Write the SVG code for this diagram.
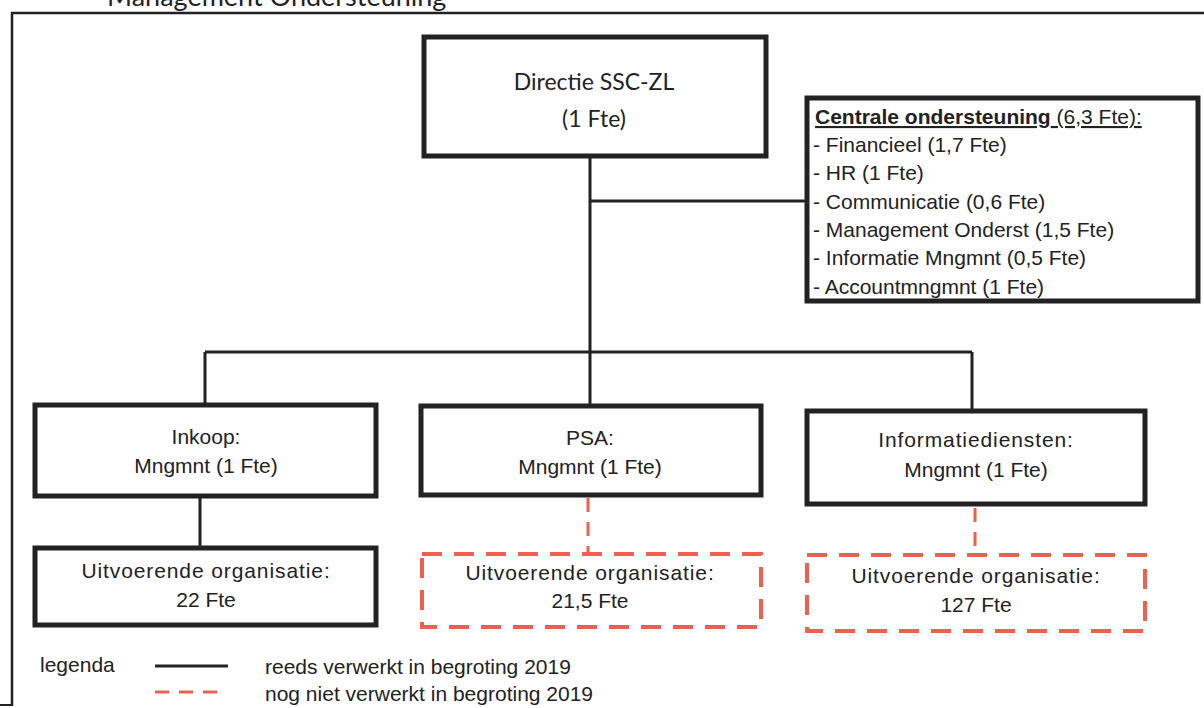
<svg xmlns="http://www.w3.org/2000/svg" width="1204" height="708" viewBox="0 0 1204 708">
<style>
.box{fill:#fff;stroke:#222;stroke-width:5}
.dbox{fill:#fff;stroke:#f0604e;stroke-width:4;stroke-dasharray:20 12}
.ln{fill:none;stroke:#222;stroke-width:3}
.dln{fill:none;stroke:#f0604e;stroke-width:3;stroke-dasharray:14 10}
text{font-family:"Liberation Sans",Arial,sans-serif;font-size:21px;fill:#222}
.cal{font-family:Lato,"Open Sans",sans-serif;font-size:23px}
.mid{text-anchor:middle}
.sp{letter-spacing:0.9px}
</style>
<rect width="1204" height="708" fill="#fff"/>
<text class="cal" x="107" y="6" style="font-size:27px">Management Ondersteuning</text>
<g id="frame"><path d="M12 706 V13 H1204" fill="none" stroke="#222" stroke-width="2.5"/><path d="M0 705 H12" stroke="#222" stroke-width="2"/></g>
<g id="connectors">
<path class="ln" d="M590 157 V404 M590 201 H806 M205 352 H972 M205 352 V404 M972 352 V411 M200 496 V547"/>
<path class="dln" d="M588 498 V552 M975 508 V553"/>
</g>
<g id="directie"><rect class="box" x="424" y="37" width="342" height="119"/>
<text class="cal mid" x="594" y="90">Directie SSC-ZL</text><text class="cal mid" x="594" y="127">(1 Fte)</text></g>
<g id="centrale"><rect class="box" x="807" y="98" width="391" height="203"/>
<text x="815" y="124"><tspan font-weight="bold" text-decoration="underline">Centrale ondersteuning</tspan><tspan text-decoration="underline"> (6,3 Fte):</tspan></text>
<text x="813" y="152">- Financieel (1,7 Fte)</text>
<text x="813" y="180">- HR (1 Fte)</text>
<text x="813" y="209">- Communicatie (0,6 Fte)</text>
<text x="813" y="237">- Management Onderst (1,5 Fte)</text>
<text x="813" y="265">- Informatie Mngmnt (0,5 Fte)</text>
<text x="813" y="294">- Accountmngmnt (1 Fte)</text></g>
<g id="inkoop"><rect class="box" x="35" y="405" width="341" height="91"/>
<text class="mid" x="206" y="444">Inkoop:</text><text class="mid" x="206" y="473">Mngmnt (1 Fte)</text></g>
<g id="psa"><rect class="box" x="421" y="406" width="340" height="89"/>
<text class="mid" x="590" y="445">PSA:</text><text class="mid" x="590" y="474">Mngmnt (1 Fte)</text></g>
<g id="info"><rect class="box" x="807" y="411" width="338" height="93"/>
<text class="mid sp" x="976" y="447">Informatiediensten:</text><text class="mid" x="976" y="477">Mngmnt (1 Fte)</text></g>
<g id="uit-inkoop"><rect class="box" x="35" y="548" width="341" height="77"/>
<text class="mid sp" x="206" y="578">Uitvoerende organisatie:</text><text class="mid" x="206" y="607">22 Fte</text></g>
<g id="uit-psa"><rect class="dbox" x="422" y="554" width="339" height="73"/>
<text class="mid sp" x="590" y="580">Uitvoerende organisatie:</text><text class="mid" x="590" y="608">21,5 Fte</text></g>
<g id="uit-info"><rect class="dbox" x="807" y="555" width="338" height="76"/>
<text class="mid sp" x="976" y="583">Uitvoerende organisatie:</text><text class="mid" x="976" y="612">127 Fte</text></g>
<g id="legend">
<text x="40" y="672">legenda</text>
<path d="M155 666 H228" stroke="#222" stroke-width="3"/>
<path d="M155 692 H225" stroke="#f0604e" stroke-width="3" stroke-dasharray="14 10"/>
<text x="265" y="674">reeds verwerkt in begroting 2019</text>
<text x="265" y="701">nog niet verwerkt in begroting 2019</text>
</g>
</svg>
